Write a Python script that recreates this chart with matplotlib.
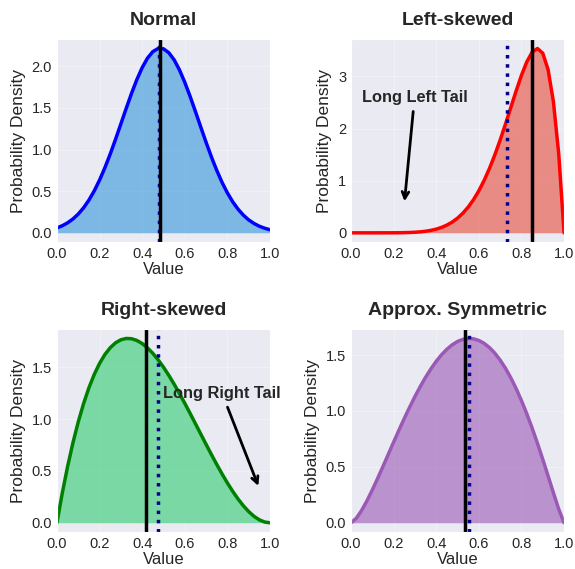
import matplotlib
matplotlib.use("Agg")
import matplotlib.pyplot as plt
import seaborn as sns

sns.set_style("darkgrid")
plt.rcParams['font.family'] = ['Liberation Sans', 'DejaVu Sans']

# ---- data ----
x_vals = [0.000, 0.025, 0.050, 0.075, 0.100, 0.125, 0.150, 0.175, 0.200, 0.225,
          0.250, 0.275, 0.300, 0.325, 0.350, 0.375, 0.400, 0.425, 0.450, 0.475,
          0.500, 0.525, 0.550, 0.575, 0.600, 0.625, 0.650, 0.675, 0.700, 0.725,
          0.750, 0.775, 0.800, 0.825, 0.850, 0.875, 0.900, 0.925, 0.950, 0.975,
          1.000]

normal_density = [0.059, 0.085, 0.120, 0.166, 0.225, 0.300, 0.392, 0.503, 0.633, 0.781,
                  0.945, 1.122, 1.307, 1.493, 1.673, 1.839, 1.983, 2.097, 2.175, 2.213,
                  2.209, 2.162, 2.077, 1.956, 1.807, 1.638, 1.456, 1.270, 1.086, 0.911,
                  0.750, 0.605, 0.479, 0.372, 0.284, 0.212, 0.155, 0.112, 0.079, 0.055,
                  0.037]

left_density = [0.0, 0.0, 0.0, 0.0, 0.0, 0.0, 0.0001, 0.0003, 0.0007, 0.0016,
                0.0033, 0.0062, 0.0110, 0.0186, 0.0301, 0.0469, 0.0708, 0.1037, 0.1480, 0.2062,
                0.2813, 0.3760, 0.4933, 0.6359, 0.8062, 1.0058, 1.2354, 1.4940, 1.7789, 2.0846,
                2.4027, 2.7204, 3.0199, 3.2775, 3.4622, 3.5343, 3.4437, 3.1289, 2.5140, 1.5077,
                0.0]

right_density = [0.0, 0.2852, 0.5415, 0.7701, 0.9720, 1.1484, 1.3005, 1.4293, 1.5360, 1.6217,
                 1.6875, 1.7346, 1.7640, 1.7769, 1.7745, 1.7578, 1.7280, 1.6862, 1.6335, 1.5711,
                 1.5000, 1.4214, 1.3365, 1.2463, 1.1520, 1.0547, 0.9555, 0.8556, 0.7560, 0.6579,
                 0.5625, 0.4708, 0.3840, 0.3032, 0.2295, 0.1641, 0.1080, 0.0624, 0.0285, 0.0073,
                 0.0]

sym_density = [0.0, 0.0404, 0.1108, 0.1971, 0.2936, 0.3967, 0.5036, 0.6123, 0.7210, 0.8281,
               0.9325, 1.0329, 1.1284, 1.2180, 1.3010, 1.3765, 1.4439, 1.5026, 1.5521, 1.5918,
               1.6214, 1.6404, 1.6485, 1.6453, 1.6307, 1.6045, 1.5665, 1.5167, 1.4550, 1.3816,
               1.2966, 1.2002, 1.0928, 0.9751, 0.8476, 0.7114, 0.5676, 0.4187, 0.2679, 0.1213,
               0.0]

titles = ["Normal", "Left-skewed", "Right-skewed", "Approx. Symmetric"]
densities = [normal_density, left_density, right_density, sym_density]
line_colors = ["blue", "red", "green", "#9b59b6"]
fill_colors = ["#3498db", "#e74c3c", "#2ecc71", "#9b59b6"]
solid_lines = [0.486, 0.850, 0.416, 0.534]
dotted_lines = [0.479, 0.734, 0.472, 0.556]
y_ticks = [[0.0, 0.5, 1.0, 1.5, 2.0], [0, 1, 2, 3],
           [0.0, 0.5, 1.0, 1.5], [0.0, 0.5, 1.0, 1.5]]
x_ticks = [0.0, 0.2, 0.4, 0.6, 0.8, 1.0]

annotations = {
    1: ("Long Left Tail", (0.25, 0.55), (0.05, 2.5)),
    2: ("Long Right Tail", (0.95, 0.33), (0.5, 1.2)),
}

fig, axes = plt.subplots(2, 2, figsize=(5.75, 5.69), dpi=100)
fig.subplots_adjust(left=0.099, right=0.981, top=0.931, bottom=0.065,
                    wspace=0.38, hspace=0.43)

for i, ax in enumerate(axes.flat):
    y = densities[i]
    ax.fill_between(x_vals, y, color=fill_colors[i], alpha=0.6, linewidth=0)
    ax.plot(x_vals, y, color=line_colors[i], lw=2.5)
    ax.axvline(dotted_lines[i], color="darkblue", ls=":", lw=2.5)
    ax.axvline(solid_lines[i], color="black", ls="-", lw=2.5)
    ax.set_xlim(0, 1)
    ax.set_xticks(x_ticks)
    ax.set_yticks(y_ticks[i])
    ax.tick_params(labelsize=10.5, length=0, pad=3.5)
    ax.set_title(titles[i], fontsize=14, fontweight="bold", pad=10)
    ax.set_xlabel("Value", fontsize=12, labelpad=1)
    ax.set_ylabel("Probability Density", fontsize=12.5, labelpad=4)
    ax.grid(True, alpha=0.3)
    if i in annotations:
        txt, xy, xytext = annotations[i]
        ax.annotate(txt, xy=xy, xytext=xytext, fontsize=11.8, fontweight="bold",
                    arrowprops=dict(arrowstyle="->", color="black", lw=2))

fig.savefig("out.png", dpi=100)
